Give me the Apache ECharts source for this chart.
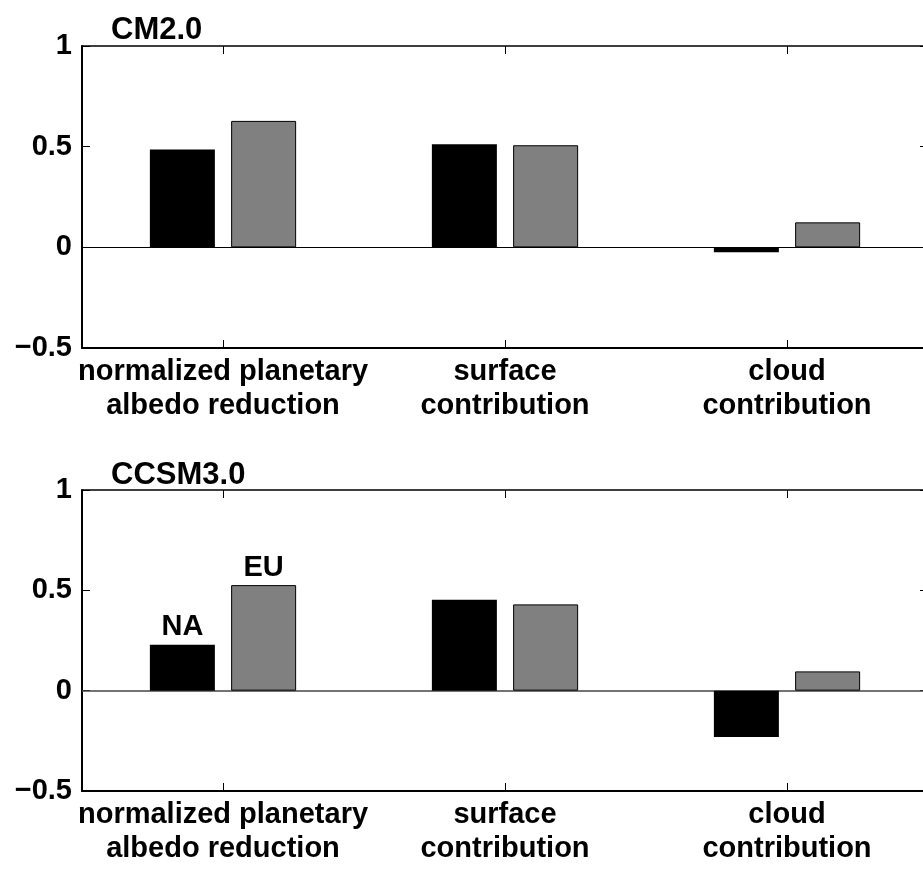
<!DOCTYPE html>
<html>
<head>
<meta charset="utf-8">
<script src="https://cdn.jsdelivr.net/npm/echarts@6/dist/echarts.min.js"></script>
<style>
html,body{margin:0;padding:0;background:#fff;overflow:hidden;}
#chart{width:923px;height:871px;}
</style>
</head>
<body>
<div id="chart"></div>
<script>
// ---- data ----
const categories = ['normalized planetary\nalbedo reduction', 'surface\ncontribution', 'cloud\ncontribution'];
const panelTitles = ['CM2.0', 'CCSM3.0'];
const seriesNames = ['NA', 'EU'];
const cm2_NA = [0.486, 0.512, -0.025];
const cm2_EU = [0.628, 0.507, 0.124];
const ccsm3_NA = [0.229, 0.453, -0.231];
const ccsm3_EU = [0.526, 0.43, 0.096];
const yTicks = [-0.5, 0, 0.5, 1];

const FONT = '"Liberation Sans", Helvetica, Arial, sans-serif';
const chart = echarts.init(document.getElementById('chart'), null, {renderer: 'canvas'});

const grids = [
  {left: 82, width: 846, top: 46, height: 302, containLabel: false, outerBoundsMode: 'none'},
  {left: 82, width: 846, top: 490, height: 301, containLabel: false, outerBoundsMode: 'none'}
];

function fmtY(v) {
  const s = (Math.round(v * 10) / 10).toString();
  return s.replace('-', '\u2212');
}

const xAxes = [], yAxes = [];
grids.forEach((g, i) => {
  xAxes.push({
    type: 'category', gridIndex: i, position: 'bottom', data: categories,
    axisLine: {show: true, onZero: false, lineStyle: {color: '#000', width: 2}},
    axisTick: {show: true, inside: true, alignWithLabel: true, length: 8, lineStyle: {color: '#000', width: 1}},
    axisLabel: {show: true, color: '#000', fontFamily: FONT, fontWeight: 'bold', fontSize: 29, lineHeight: 34, margin: 7, interval: 0}
  });
  xAxes.push({
    type: 'category', gridIndex: i, position: 'top', data: categories,
    axisLine: {show: true, onZero: false, lineStyle: {color: '#000', width: 1.5}},
    axisTick: {show: true, inside: true, alignWithLabel: true, length: 8, lineStyle: {color: '#000', width: 1}},
    axisLabel: {show: false}
  });
  yAxes.push({
    type: 'value', gridIndex: i, position: 'left', min: yTicks[0], max: yTicks[yTicks.length - 1], interval: 0.5,
    splitLine: {show: false},
    axisLine: {show: true, onZero: false, lineStyle: {color: '#000', width: 2}},
    axisTick: {show: true, inside: true, length: 8, lineStyle: {color: '#000', width: 1}},
    axisLabel: {show: true, color: '#000', fontFamily: FONT, fontWeight: 'bold', fontSize: 29, margin: 10, formatter: fmtY}
  });
  yAxes.push({
    type: 'value', gridIndex: i, position: 'right', min: yTicks[0], max: yTicks[yTicks.length - 1], interval: 0.5,
    splitLine: {show: false},
    axisLine: {show: true, onZero: false, lineStyle: {color: '#000', width: 2}},
    axisTick: {show: true, inside: true, length: 8, lineStyle: {color: '#000', width: 1}},
    axisLabel: {show: false}
  });
});

const panelData = [[cm2_NA, cm2_EU], [ccsm3_NA, ccsm3_EU]];
const series = [];
panelData.forEach((pair, i) => {
  pair.forEach((vals, j) => {
    const s = {
      type: 'bar', name: seriesNames[j] + i,
      xAxisIndex: i * 2, yAxisIndex: i * 2,
      barWidth: 65, barGap: '25%',
      itemStyle: j === 0 ? {color: '#000', borderColor: '#000', borderWidth: 0}
                         : {color: '#808080', borderColor: '#000', borderWidth: 1},
      data: vals.map((v, k) => {
        const d = {value: v};
        if (i === 1 && k === 0) {
          d.label = {show: true, position: 'top', distance: 3, formatter: seriesNames[j],
                     color: '#000', fontFamily: FONT, fontWeight: 'bold', fontSize: 29};
        }
        return d;
      }),
      animation: false,
      z: 3
    };
    if (j === 0) {
      s.markLine = {
        silent: true, symbol: 'none', label: {show: false},
        lineStyle: {type: 'solid', color: i === 0 ? '#000' : '#444', width: i === 0 ? 1 : 1.5},
        data: [{yAxis: 0}],
        z: 1
      };
    }
    series.push(s);
  });
});

chart.setOption({
  backgroundColor: '#fff',
  animation: false,
  title: [
    {text: panelTitles[0], left: 106, top: 10, textStyle: {fontFamily: FONT, fontWeight: 'bold', fontSize: 31, color: '#000'}},
    {text: panelTitles[1], left: 106, top: 455, textStyle: {fontFamily: FONT, fontWeight: 'bold', fontSize: 31, color: '#000'}}
  ],
  grid: grids,
  xAxis: xAxes,
  yAxis: yAxes,
  series: series
});
</script>
</body>
</html>
